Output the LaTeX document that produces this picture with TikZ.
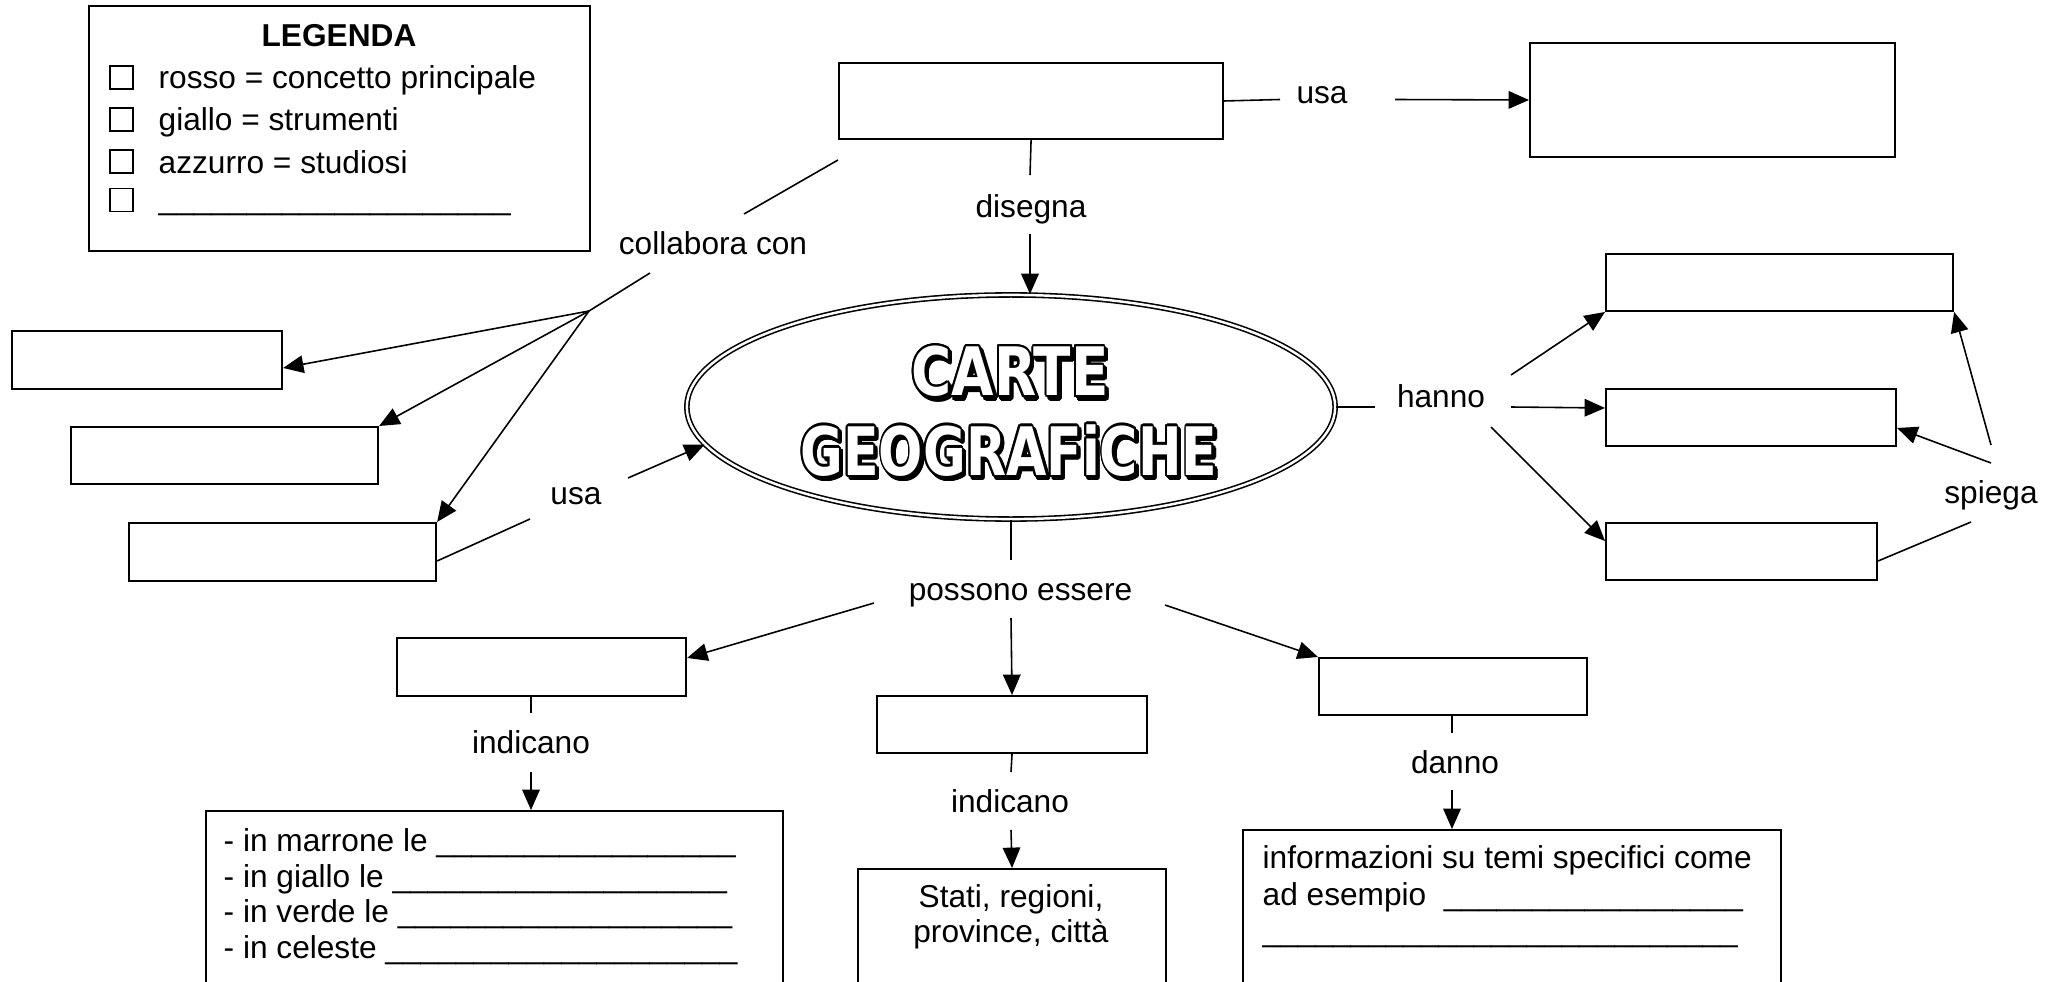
\documentclass[tikz,border=0pt]{standalone}
\usepackage{fontspec}
\setmainfont{Liberation Sans}
\newfontfamily\titlefont{DejaVu Sans}
\usepackage[copies]{contour}
\contourlength{0.65pt}
\usetikzlibrary{arrows.meta,shapes.geometric,calc}
\ExplSyntaxOn
\cs_new:Npn \myuline #1 { \prg_replicate:nn {#1} {\_} }
\ExplSyntaxOff
\newcommand{\shadowtitle}[1]{\makebox[0pt][l]{\hspace{0.9pt}\raisebox{-0.9pt}{\contour{black}{\textcolor{black}{#1}}}}\contour{black}{\textcolor{white}{#1}}}
\begin{document}
\begin{tikzpicture}[x=0.01cm,y=-0.01cm,
  every node/.style={font=\fontsize{9}{11}\selectfont},
  box/.style={draw,line width=0.55pt,inner sep=0pt,anchor=north west},
  lbl/.style={inner sep=0pt,text height=6.5pt,text depth=1.9pt},
  conn/.style={line width=0.45pt},
  arr/.style={conn,-{Triangle[length=5.8pt,width=5pt]}},
  ckbox/.style={draw,line width=0.4pt,minimum width=0.23cm,minimum height=0.23cm,inner sep=0pt},
  title/.style={inner sep=0pt,font=\titlefont\bfseries\fontsize{19}{19}\selectfont}
]
\useasboundingbox (0,0) rectangle (2060,982);
\clip (0,0) rectangle (2060,982);
\fill[white] (0,0) rectangle (2060,982);

% ---------- legend ----------
\node[box,minimum width=5.01cm,minimum height=2.45cm] (leg) at (88,5) {};
\node[anchor=base,font=\fontsize{9}{11}\selectfont\bfseries] (legT) at (339,46.5) {LEGENDA};
\node[ckbox] (ck1) at (121.5,77.5) {};
\node[ckbox] (ck2) at (121.5,119.5) {};
\node[ckbox] (ck3) at (121.5,161.5) {};
\node[ckbox] (ck4) at (121.5,200) {};
\node[anchor=base west,inner sep=0pt] (lg1) at (158,88.5) {rosso = concetto principale};
\node[anchor=base west,inner sep=0pt] (lg2) at (158,130.5) {giallo = strumenti};
\node[anchor=base west,inner sep=0pt] (lg3) at (158,174) {azzurro = studiosi};
\node[anchor=base west,inner sep=0pt] (lg4) at (158,210) {\myuline{20}};

% ---------- boxes ----------
\node[box,minimum width=3.84cm,minimum height=0.76cm] (A) at (838,62) {};
\node[box,minimum width=3.65cm,minimum height=1.14cm] (B) at (1529,42) {};
\node[box,minimum width=2.70cm,minimum height=0.58cm] (L1) at (11,330) {};
\node[box,minimum width=3.07cm,minimum height=0.57cm] (L2) at (70,426) {};
\node[box,minimum width=3.07cm,minimum height=0.58cm] (L3) at (128,522) {};
\node[box,minimum width=3.47cm,minimum height=0.57cm] (R1) at (1605,253) {};
\node[box,minimum width=2.90cm,minimum height=0.57cm] (R2) at (1605,388) {};
\node[box,minimum width=2.71cm,minimum height=0.57cm] (R3) at (1605,522) {};
\node[box,minimum width=2.89cm,minimum height=0.58cm] (P1) at (396,637) {};
\node[box,minimum width=2.70cm,minimum height=0.57cm] (P2) at (876,695) {};
\node[box,minimum width=2.68cm,minimum height=0.57cm] (P3) at (1318,657) {};
\node[box,minimum width=5.77cm,minimum height=2.5cm] (B1) at (205,810) {};
\node[box,minimum width=3.08cm,minimum height=2.0cm] (B2) at (857,868) {};
\node[box,minimum width=5.38cm,minimum height=2.2cm] (B3) at (1242,829) {};

\node[anchor=north west,inner sep=0pt,align=left,font=\fontsize{9}{10.1}\selectfont] (B1t) at (223,828)
  {- in marrone le \myuline{17}\\- in giallo le \myuline{19}\\- in verde le \myuline{19}\\- in celeste \myuline{20}};
\node[anchor=north,inner sep=0pt,align=center,font=\fontsize{9}{10}\selectfont] (B2t) at (1011,884)
  {Stati, regioni,\\province, città};
\node[anchor=north west,inner sep=0pt,align=left,font=\fontsize{9}{10.4}\selectfont] (B3t) at (1262,845)
  {informazioni su temi specifici come\\ad esempio\ \ \myuline{17}\\\myuline{27}};

% ---------- central ellipse ----------
\node[ellipse,draw,double,double distance=0.7pt,line width=0.45pt,
      minimum width=6.48cm,minimum height=2.24cm,inner sep=0pt] (E) at (1011,407) {};
\node[title] (t1) at (1010,374) {\scalebox{0.82}[1]{\shadowtitle{CARTE}}};
\node[title] (t2) at (1009,453) {\scalebox{0.78}[1]{\shadowtitle{GEOGRAFiCHE}}};

% ---------- labels ----------
\node[lbl] (usaT) at (1322,95) {usa};
\node[lbl] (dis) at (1031,209.5) {disegna};
\node[lbl] (coll) at (713,246) {collabora con};
\node[lbl] (hanno) at (1441,399) {hanno};
\node[lbl] (spiega) at (1991,495) {spiega};
\node[lbl] (usaL) at (576,496) {usa};
\node[lbl] (poss) at (1020.5,592) {possono essere};
\node[lbl] (ind1) at (531,745) {indicano};
\node[lbl] (ind2) at (1010,804) {indicano};
\node[lbl] (danno) at (1455,765) {danno};

% ---------- connector end points ----------
\coordinate (usaT-w) at (1280,99.5);
\coordinate (usaT-e) at (1395,99.5);
\coordinate (dis-n) at (1030,175);
\coordinate (dis-s) at (1030,234);
\coordinate (coll-n) at (744,214);
\coordinate (coll-s) at (650,273);
\coordinate (br) at (589,311);
\coordinate (usaL-sw) at (530,519);
\coordinate (usaL-ne) at (628,478);
\coordinate (hanno-w) at (1375,407);
\coordinate (hanno-ne) at (1511,375);
\coordinate (hanno-e) at (1511,407);
\coordinate (hanno-se) at (1491,427);
\coordinate (spiega-n) at (1991,445);
\coordinate (spiega-w) at (1991,463);
\coordinate (spiega-sw) at (1971,522);
\coordinate (poss-n) at (1011,560);
\coordinate (poss-w) at (874,603);
\coordinate (poss-s) at (1011,618);
\coordinate (poss-e) at (1165,605);
\coordinate (ind1-n) at (531,713);
\coordinate (ind1-s) at (531,772);
\coordinate (ind2-n) at (1011,772);
\coordinate (ind2-s) at (1011,830);
\coordinate (danno-n) at (1452,733);
\coordinate (danno-s) at (1452,790);

% ---------- connectors ----------
\draw[conn] (A.east) -- (usaT-w);
\draw[arr] (usaT-e) -- (B.west);
\draw[conn] (A.south) -- (dis-n);
\draw[arr] (dis-s) -- (dis-s |- E.north);
\draw[conn] ($(A.south west)+(0,20)$) -- (coll-n);
\draw[conn] (coll-s) -- (br);
\draw[arr] (br) -- ($(L1.east)+(0,8)$);
\draw[arr] (br) -- (L2.north east);
\draw[arr] (br) -- (L3.north east);
\draw[conn] ($(L3.east)+(0,9)$) -- (usaL-sw);
\draw[arr] (usaL-ne) -- (E.187);
\draw[conn] (E.east) -- (hanno-w);
\draw[arr] (hanno-ne) -- (R1.south west);
\draw[arr] (hanno-e) -- ($(R2.west)+(0,-9.5)$);
\draw[arr] (hanno-se) -- ($(R3.west)+(0,-10.5)$);
\draw[arr] (spiega-n) -- (R1.south east);
\draw[arr] (spiega-w) -- ($(R2.east)+(0,10.5)$);
\draw[conn] (spiega-sw) -- ($(R3.east)+(0,9.5)$);
\draw[conn] (E.south) -- (poss-n);
\draw[arr] (poss-w) -- ($(P1.east)+(0,-9)$);
\draw[arr] (poss-s) -- (P2.north);
\draw[arr] (poss-e) -- (P3.north west);
\draw[conn] (ind1-n |- P1.south) -- (ind1-n);
\draw[arr] (ind1-s) -- (ind1-s |- B1.north);
\draw[conn] (P2.south) -- (ind2-n);
\draw[arr] (ind2-s) -- (B2.north);
\draw[conn] (danno-n |- P3.south) -- (danno-n);
\draw[arr] (danno-s) -- (danno-s |- B3.north);
\end{tikzpicture}
\end{document}
